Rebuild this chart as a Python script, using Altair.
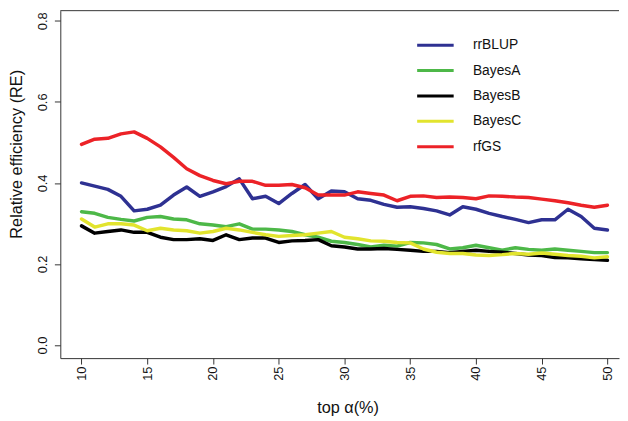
import altair as alt
import pandas as pd

top_alpha = list(range(10, 51))

rrBLUP = [0.400, 0.392, 0.384, 0.367, 0.331, 0.335, 0.345, 0.370, 0.390, 0.367,
          0.378, 0.391, 0.410, 0.361, 0.367, 0.349, 0.374, 0.396, 0.361, 0.380,
          0.378, 0.361, 0.357, 0.347, 0.340, 0.341, 0.337, 0.331, 0.321, 0.341,
          0.335, 0.325, 0.317, 0.310, 0.302, 0.309, 0.309, 0.335, 0.317, 0.288,
          0.284]
BayesA = [0.329, 0.325, 0.315, 0.310, 0.306, 0.315, 0.317, 0.311, 0.309, 0.299,
          0.296, 0.292, 0.299, 0.286, 0.286, 0.284, 0.280, 0.272, 0.266, 0.256,
          0.253, 0.248, 0.242, 0.246, 0.244, 0.253, 0.252, 0.248, 0.237, 0.240,
          0.246, 0.240, 0.234, 0.240, 0.236, 0.234, 0.237, 0.234, 0.231, 0.228,
          0.228]
BayesB = [0.294, 0.276, 0.280, 0.284, 0.278, 0.278, 0.266, 0.260, 0.260, 0.262,
          0.258, 0.272, 0.260, 0.264, 0.264, 0.253, 0.257, 0.258, 0.260, 0.245,
          0.242, 0.237, 0.237, 0.238, 0.236, 0.234, 0.231, 0.231, 0.228, 0.231,
          0.234, 0.231, 0.229, 0.226, 0.222, 0.221, 0.216, 0.215, 0.213, 0.211,
          0.209]
BayesC = [0.311, 0.291, 0.299, 0.299, 0.296, 0.282, 0.288, 0.284, 0.282, 0.276,
          0.280, 0.288, 0.284, 0.278, 0.272, 0.268, 0.270, 0.272, 0.276, 0.280,
          0.266, 0.262, 0.257, 0.256, 0.253, 0.252, 0.237, 0.229, 0.226, 0.226,
          0.222, 0.221, 0.223, 0.226, 0.224, 0.227, 0.224, 0.221, 0.219, 0.215,
          0.218]
rfGS = [0.495, 0.508, 0.510, 0.521, 0.526, 0.510, 0.489, 0.463, 0.435, 0.418,
        0.406, 0.398, 0.404, 0.404, 0.394, 0.394, 0.396, 0.388, 0.370, 0.370,
        0.370, 0.378, 0.374, 0.370, 0.356, 0.367, 0.368, 0.364, 0.365, 0.364,
        0.361, 0.368, 0.367, 0.365, 0.364, 0.360, 0.356, 0.351, 0.345, 0.340,
        0.345]

methods = ["rrBLUP", "BayesA", "BayesB", "BayesC", "rfGS"]
colors = ["#2e3192", "#4db848", "#000000", "#e2e42e", "#ec2227"]
x_ticks = [10, 15, 20, 25, 30, 35, 40, 45, 50]
y_ticks = [0.0, 0.2, 0.4, 0.6, 0.8]

rows = []
for m, vals in zip(methods, [rrBLUP, BayesA, BayesB, BayesC, rfGS]):
    for x, v in zip(top_alpha, vals):
        rows.append({"top": x, "RE": v, "method": m, "k": methods.index(m)})
df = pd.DataFrame(rows)

W, H = 566, 352
FONT = "Liberation Sans"
AX = "#333333"
TXT = "#111111"

lines = alt.Chart(df).mark_line(strokeWidth=3.5, strokeCap="round", strokeJoin="round").encode(
    x=alt.X("top:Q",
            scale=alt.Scale(domain=[8.386, 50.88], nice=False, zero=False),
            axis=alt.Axis(values=x_ticks, format="d", grid=False,
                          domainColor=AX, tickColor=AX, tickSize=6,
                          labelAngle=270, labelAlign="right", labelBaseline="middle",
                          labelPadding=2, labelFontSize=13, labelFont=FONT, labelColor=TXT,
                          title="top α(%)", titleFont=FONT, titleFontSize=16.5,
                          titleFontWeight="normal", titleColor=TXT,
                          titleX=291, titleY=50, titleAlign="center", titleBaseline="middle")),
    y=alt.Y("RE:Q",
            scale=alt.Scale(domain=[-0.0324, 0.8251], nice=False, zero=False),
            axis=alt.Axis(values=y_ticks, format=".1f", grid=False,
                          domainColor=AX, tickColor=AX, tickSize=6,
                          labelAngle=270, labelAlign="center", labelBaseline="bottom",
                          labelPadding=5, labelFontSize=13, labelFont=FONT, labelColor=TXT,
                          title="Relative efficiency (RE)", titleFont=FONT, titleFontSize=16.5,
                          titleFontWeight="normal", titleColor=TXT, titleAngle=270,
                          titleX=-44.3, titleY=145, titleAlign="center", titleBaseline="middle")),
    color=alt.Color("method:N", sort=methods,
                    scale=alt.Scale(domain=methods, range=colors),
                    legend=alt.Legend(orient="none", legendX=372, legendY=27, padding=0,
                                      title=None, symbolType="M-3,0H3", symbolSize=152,
                                      symbolStrokeWidth=3, labelOffset=30, labelFontSize=14,
                                      labelFont=FONT, labelColor=TXT, rowPadding=10.7)),
    order=alt.Order("k:Q"),
)

top_border = alt.Chart(pd.DataFrame({"a": [0]})).mark_rule(color=AX, strokeWidth=1).encode(
    x=alt.value(0), x2=alt.value(W), y=alt.value(0)
)

chart = alt.layer(lines, top_border).properties(
    width=W, height=H,
    autosize=alt.AutoSizeParams(type="none"),
    padding={"left": 53, "top": 0, "right": 1, "bottom": 61},
).configure_view(stroke=None)

chart.save("out.html", embed_options={"renderer": "svg", "actions": False})
